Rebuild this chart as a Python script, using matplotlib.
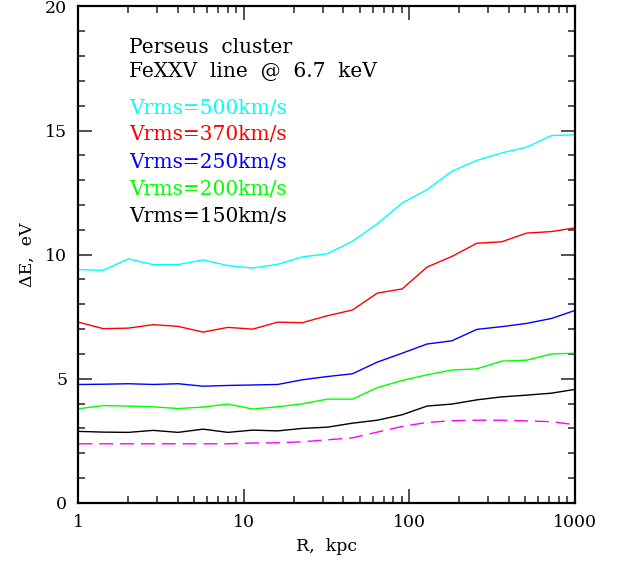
import matplotlib
matplotlib.use("Agg")
import matplotlib.pyplot as plt
import numpy as np
from matplotlib.ticker import FixedLocator, NullFormatter, FixedFormatter

# radius grid, kpc (steps of 0.15 dex from 1 to 1000)
radius = [1, 1.41, 2, 2.83, 4, 5.66, 8, 11.3, 16, 22.6, 32, 45.3, 64,
          90.5, 128, 181, 256, 362, 512, 724, 1000]

# line shift/broadening, eV
v500 = [9.40, 9.37, 9.83, 9.60, 9.60, 9.79, 9.56, 9.46, 9.61, 9.91, 10.04,
        10.54, 11.24, 12.08, 12.62, 13.36, 13.80, 14.10, 14.33, 14.80, 14.83]
v370 = [7.28, 7.02, 7.04, 7.18, 7.11, 6.88, 7.07, 7.00, 7.28, 7.26, 7.54,
        7.77, 8.45, 8.62, 9.50, 9.93, 10.46, 10.52, 10.87, 10.93, 11.08]
v250 = [4.77, 4.78, 4.80, 4.77, 4.80, 4.70, 4.73, 4.75, 4.77, 4.96, 5.09,
        5.20, 5.67, 6.03, 6.40, 6.53, 6.99, 7.10, 7.23, 7.43, 7.75]
v200 = [3.79, 3.92, 3.90, 3.87, 3.80, 3.86, 3.98, 3.78, 3.87, 3.99, 4.18,
        4.18, 4.64, 4.93, 5.16, 5.35, 5.40, 5.71, 5.75, 6.00, 6.03]
v150 = [2.88, 2.85, 2.84, 2.92, 2.84, 2.97, 2.84, 2.93, 2.90, 3.00, 3.05,
        3.21, 3.33, 3.55, 3.90, 3.98, 4.15, 4.27, 4.34, 4.42, 4.57]
thermal = [2.38, 2.38, 2.38, 2.38, 2.38, 2.38, 2.38, 2.41, 2.42, 2.46, 2.54,
           2.62, 2.85, 3.08, 3.24, 3.31, 3.33, 3.33, 3.30, 3.27, 3.15]

series = [(v500, "#00ffff", "Vrms=500km/s"),
          (v370, "#ff0000", "Vrms=370km/s"),
          (v250, "#0000ff", "Vrms=250km/s"),
          (v200, "#00ff00", "Vrms=200km/s"),
          (v150, "#000000", "Vrms=150km/s")]

plt.rcParams['font.family'] = ['DejaVu Serif']

fig = plt.figure(figsize=(6.18, 5.65), dpi=100)
ax = fig.add_axes([0.127, 0.110, 0.803, 0.8785])

for vals, col, lab in series:
    ax.plot(radius, vals, color=col, lw=1.0)
ax.plot(radius, thermal, color="#ff00ff", lw=1.0, dashes=(10, 5))

ax.set_xscale("log")
ax.set_xlim(1, 1000)
ax.set_ylim(0, 20)

ax.xaxis.set_major_locator(FixedLocator([1, 10, 100, 1000]))
ax.xaxis.set_major_formatter(FixedFormatter(["1", "10", "100", "1000"]))
minors = [m * d for d in (1, 10, 100) for m in range(2, 10)]
ax.xaxis.set_minor_locator(FixedLocator(minors))
ax.xaxis.set_minor_formatter(NullFormatter())
ax.set_yticks([0, 5, 10, 15, 20])
ax.set_yticks(np.arange(0, 21, 1), minor=True)

ax.tick_params(which="both", direction="in", top=True, right=True,
               labelsize=12.5, width=1.2, color="#333333")
ax.tick_params(which="major", length=10, pad=8)
ax.tick_params(which="minor", length=5)
for sp in ax.spines.values():
    sp.set_linewidth(1.6)

ax.set_xlabel("R,  kpc", fontsize=12.5, labelpad=5)
ax.set_ylabel("ΔE,  eV", fontsize=12.5, labelpad=7)

# annotation block, upper left
fs = 14.5
ax.text(0.102, 0.918, "Perseus  cluster", transform=ax.transAxes,
        fontsize=fs, va="center")
ax.text(0.102, 0.870, "FeXXV  line  @  6.7  keV", transform=ax.transAxes,
        fontsize=fs, va="center")
ypos = [0.795, 0.742, 0.686, 0.631, 0.577]
for (vals, col, lab), yy in zip(series, ypos):
    ax.text(0.102, yy, lab, transform=ax.transAxes, fontsize=fs,
            va="center", color=col)

fig.savefig("out.png", dpi=100)
